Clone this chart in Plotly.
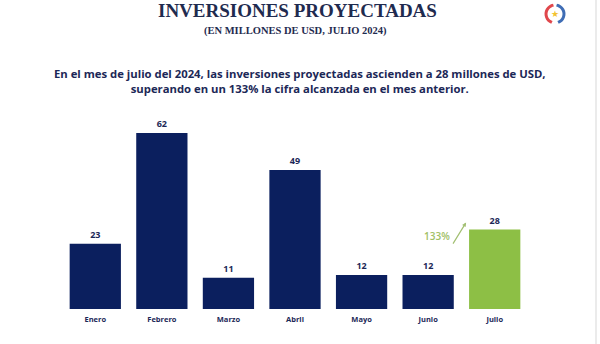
import math
import plotly.graph_objects as go

meses = ["Enero", "Febrero", "Marzo", "Abril", "Mayo", "Junio", "Julio"]
inversiones = [23, 62, 11, 49, 12, 12, 28]
colores = ["#0b1f5e"] * 6 + ["#8dbf45"]

titulo = "INVERSIONES PROYECTADAS"
subtitulo = "(EN MILLONES DE USD, JULIO 2024)"
texto = ("En el mes de julio del 2024, las inversiones proyectadas ascienden a 28 millones de USD,<br>"
         "superando en un 133% la cifra alcanzada en el mes anterior.")
variacion = "133%"

L, W, B, H = 62, 466, 309, 199

def px(x):
    return (x - L) / W

def py(y):
    return (B - y) / H

fig = go.Figure()
fig.add_trace(go.Bar(
    x=meses, y=inversiones, marker=dict(color=colores, line=dict(width=0)),
    text=[str(v) for v in inversiones], textposition="outside",
    textfont=dict(family="Open Sans", size=9, color="#1c2857", weight="bold"),
    cliponaxis=False, width=0.77,
))

fig.update_layout(
    width=600, height=344,
    margin=dict(l=62, r=72, t=110, b=35),
    paper_bgcolor="white", plot_bgcolor="white",
    showlegend=False,
    xaxis=dict(showgrid=False, showline=False, zeroline=False, ticks="", ticklabelstandoff=4,
               tickfont=dict(family="Open Sans", size=7.5, color="#1c2857", weight="bold")),
    yaxis=dict(range=[0, 70.1], visible=False),
    font=dict(family="Open Sans"),
)

fig.add_annotation(text="<b>" + titulo + "</b>", xref="paper", yref="paper",
                   x=px(297), y=py(11), showarrow=False,
                   font=dict(family="Liberation Serif", size=19, color="#1f2b4f"),
                   xanchor="center", yanchor="middle")
fig.add_annotation(text="<b>" + subtitulo + "</b>", xref="paper", yref="paper",
                   x=px(295), y=py(31), showarrow=False,
                   font=dict(family="Liberation Serif", size=10.5, color="#1f2b4f"),
                   xanchor="center", yanchor="middle")
fig.add_annotation(text="<b>" + texto + "</b>", xref="paper", yref="paper",
                   x=px(300), y=py(80.5), showarrow=False,
                   font=dict(family="Open Sans", size=11.3, color="#1c2857"),
                   xanchor="center", yanchor="middle", align="center")

# 133% arrow between Junio and Julio
fig.add_annotation(x=5.57, y=30.5, ax=5.36, ay=22.5, xref="x", yref="y", axref="x", ayref="y",
                   text="", showarrow=True, arrowhead=2, arrowsize=0.7, arrowwidth=1.2,
                   arrowcolor="#a2bf72")
fig.add_annotation(x=5.13, y=25.7, xref="x", yref="y", text=variacion, showarrow=False,
                   font=dict(family="Open Sans", size=10, color="#9fc066", weight=600),
                   xanchor="center", yanchor="middle")

# logo approximation
cx, cy, r = 555, 14, 9

def arc(start, end, color):
    pts = []
    for i in range(13):
        a = math.radians(start + (end - start) * i / 12)
        pts.append((px(cx + r * math.cos(a)), py(cy - r * math.sin(a))))
    path = "M " + " L ".join(f"{x:.4f},{y:.4f}" for x, y in pts)
    fig.add_shape(type="path", xref="paper", yref="paper", path=path,
                  line=dict(color=color, width=3))

arc(100, 250, "#e0474c")
arc(80, -70, "#3f6db5")
fig.add_annotation(text="★", xref="paper", yref="paper", x=px(cx), y=py(cy),
                   showarrow=False, font=dict(size=9, color="#f2c230"),
                   xanchor="center", yanchor="middle")

# faint vertical border line at right
fig.add_shape(type="line", xref="paper", yref="paper", x0=px(596), x1=px(596),
              y0=py(344), y1=py(0), line=dict(color="#e4e4e4", width=1.5))

fig.write_html("out.html")
